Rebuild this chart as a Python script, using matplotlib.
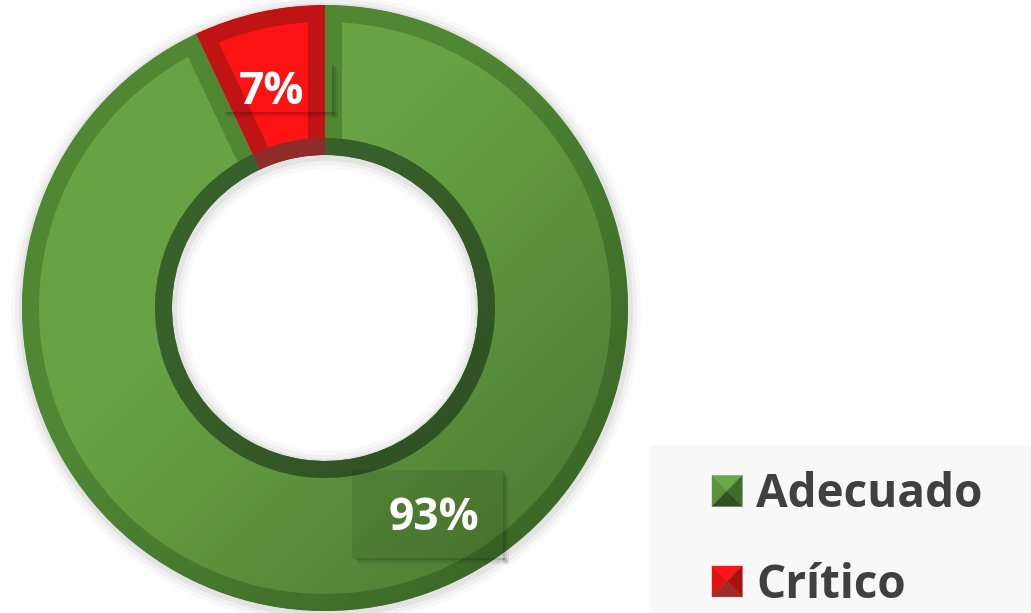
import numpy as np
import matplotlib.pyplot as plt
from matplotlib.patches import Patch, Rectangle, Polygon
from matplotlib.legend_handler import HandlerPatch

# data
labels = ['Adecuado', 'Crítico']
values = [93, 7]
pct_text = ['93%', '7%']

# styles
fill_colors = ['#67a344', '#fd1313']
edge_colors = ['#4f8733', '#c01414']
inner_colors = ['#38602a', '#8e2c2c']
pyramid = {
    '#67a344': ['#6aa948', '#5a933c', '#2f5220', '#3e6d2b'],   # top, left, bottom, right
    '#fd1313': ['#ff1616', '#e01313', '#9e2b2b', '#a91111'],
}

plt.rcParams['font.family'] = ['Open Sans', 'DejaVu Sans']

fig = plt.figure(figsize=(10.31, 6.13), dpi=100)
ax = fig.add_axes([0, 0, 1, 1])
px = 72. / fig.dpi   # points per pixel

H = 613
cx, cy = 325, H - 308
r_out, ring, bevel = 303, 150, 17

# soft shadow around the ring
for k, a in [(12, 0.025), (8, 0.035), (4, 0.05)]:
    ax.pie([1], radius=r_out + k, center=(cx + 1, cy - 2), colors=['black'],
           wedgeprops=dict(width=ring + 2 * k, alpha=a, linewidth=0))

# main ring, with an inner stroke for the bevel
wedges, _ = ax.pie(values, radius=r_out, center=(cx, cy), startangle=90,
                   counterclock=False, colors=fill_colors,
                   wedgeprops=dict(width=ring, linewidth=2 * bevel * px))
for w, ec in zip(wedges, edge_colors):
    w.set_edgecolor(ec)
    w.set_clip_on(True)
    w.set_clip_path(w)

# darker inner rim
rims, _ = ax.pie(values, radius=r_out - ring + bevel, center=(cx, cy), startangle=90,
                 counterclock=False, colors=inner_colors,
                 wedgeprops=dict(width=bevel, linewidth=0))

# light-from-top-left shading on the green slice
n = 200
gx, gy = np.meshgrid(np.linspace(0, 1, n), np.linspace(0, 1, n))
shade = np.zeros((n, n, 4))
shade[..., 3] = np.clip((gx + gy) / 2 - 0.4, 0, 1) * 0.5
img = ax.imshow(shade, extent=(cx - r_out, cx + r_out, cy - r_out, cy + r_out),
                origin='upper', zorder=2.5, interpolation='bilinear')
img.set_clip_path(wedges[0])

# label boxes (x0, y0 top in image px, width, height, darkening)
boxes = [(352, 470, 151, 88, 0.09), (222, 62, 110, 50, 0.0)]
text_pos = [(434, 518), (272, 92)]
for (bx, by, bw, bh, dark), (tx, ty), txt in zip(boxes, text_pos, pct_text):
    y0 = H - by - bh
    for k, a in [(6, 0.05), (4, 0.07), (2, 0.10)]:
        # drop shadow: bottom and right strips only
        ax.add_patch(Rectangle((bx + k, y0 - k), bw, k, facecolor='black',
                               alpha=a, linewidth=0, zorder=3))
        ax.add_patch(Rectangle((bx + bw, y0 - k), k, bh, facecolor='black',
                               alpha=a, linewidth=0, zorder=3))
    if dark:
        ax.add_patch(Rectangle((bx, y0), bw, bh, facecolor='black', alpha=dark,
                               linewidth=0, zorder=4))
    ax.text(tx, H - ty, txt, color='white', fontsize=32, fontweight='bold',
            ha='center', va='center', zorder=5)

# legend panel
ax.add_patch(Rectangle((650, 0), 1031 - 650, H - 445, facecolor='#f8f8f8',
                       linewidth=0, zorder=0))


class PyramidHandler(HandlerPatch):
    def create_artists(self, legend, orig_handle, xdescent, ydescent, width, height, fontsize, trans):
        x0, y0 = -xdescent, -ydescent
        x1, y1 = x0 + width, y0 + height
        xm, ym = (x0 + x1) / 2, (y0 + y1) / 2
        top, left, bottom, right = pyramid[orig_handle.base_color]
        tris = [[(x0, y1), (x1, y1), (xm, ym)],
                [(x0, y0), (x0, y1), (xm, ym)],
                [(x0, y0), (x1, y0), (xm, ym)],
                [(x1, y0), (x1, y1), (xm, ym)]]
        arts = []
        for pts, c in zip(tris, [top, left, bottom, right]):
            arts.append(Polygon(pts, closed=True, facecolor=c, edgecolor=c,
                                linewidth=0.3, transform=trans))
        return arts


handles = []
for c, lab in zip(fill_colors, labels):
    h = Patch(facecolor=c, label=lab)
    h.base_color = c
    handles.append(h)

leg = ax.legend(handles=handles, loc='upper left', bbox_to_anchor=(712, H - 471),
                bbox_transform=ax.transData, frameon=False,
                prop=dict(weight='bold', size=33), labelcolor='#404040',
                handlelength=0.66, handleheight=0.66, handletextpad=0.3,
                labelspacing=0.95, borderpad=0, borderaxespad=0,
                handler_map={Patch: PyramidHandler()})

ax.set_xlim(0, 1031)
ax.set_ylim(0, H)
ax.set_aspect('auto')
ax.axis('off')

fig.savefig('out.png', dpi=100)
